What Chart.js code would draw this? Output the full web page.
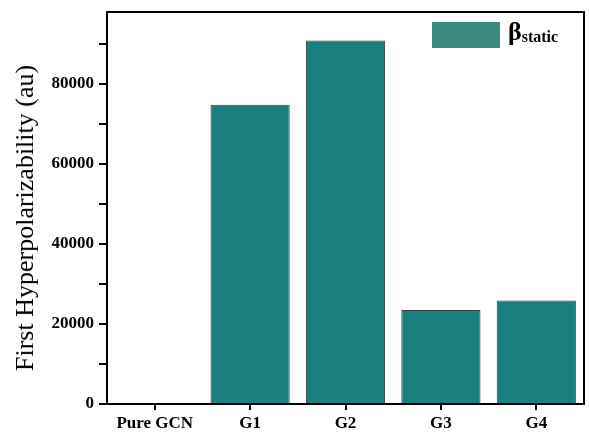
<!DOCTYPE html>
<html>
<head>
<meta charset="utf-8">
<script src="https://cdn.jsdelivr.net/npm/chart.js@4/dist/chart.umd.min.js"></script>
<style>
  html, body { margin: 0; padding: 0; background: #fff; }
  #wrap { position: relative; width: 589px; height: 433px; }
  #legend { position: absolute; left: 432px; top: 19px; display: flex; align-items: center;
            font-family: "Liberation Serif", "Times New Roman", serif; font-weight: bold; color: #000; }
  #legend .box { width: 68px; height: 26px; background: #3d8a80; margin-right: 8px; }
  #legend .beta { font-size: 26px; line-height: 26px; }
  #legend sub { font-size: 16px; vertical-align: -2px; }
  #ytitle { position: absolute; left: 25px; top: 218px; transform: translate(-50%, -50%) rotate(-90deg);
            white-space: nowrap; font-family: "Liberation Serif", "Times New Roman", serif; font-size: 26px;
            line-height: 26px; color: #000; }
</style>
</head>
<body>
<div id="wrap">
  <canvas id="c" width="589" height="433"></canvas>
  <div id="ytitle">First Hyperpolarizability (au)</div>
  <div id="legend"><span class="box"></span><span class="beta">β<sub>static</sub></span></div>
</div>
<script>
const categories = ["Pure GCN", "G1", "G2", "G3", "G4"];
const betaStatic = [0, 74800, 90900, 23500, 25850];
const yTickValues = [0, 20000, 40000, 60000, 80000];

const frame = {
  id: 'frame',
  afterDraw(chart) {
    const a = chart.chartArea, ctx = chart.ctx;
    ctx.save();
    ctx.strokeStyle = '#000';
    ctx.lineWidth = 2;
    ctx.strokeRect(a.left, a.top, a.right - a.left, a.bottom - a.top);
    ctx.restore();
  }
};

new Chart(document.getElementById('c'), {
  type: 'bar',
  data: {
    labels: categories,
    datasets: [{
      label: 'βstatic',
      data: betaStatic,
      backgroundColor: '#1b7f80',
      borderColor: '#33413f',
      borderWidth: 1,
      barPercentage: 0.83,
      categoryPercentage: 1.0
    }]
  },
  options: {
    responsive: false,
    animation: false,
    layout: { padding: { top: 12, right: 5, left: 0, bottom: 0 } },
    plugins: { legend: { display: false }, tooltip: { enabled: false } },
    scales: {
      x: {
        grid: { offset: false, drawOnChartArea: false, drawTicks: true, tickLength: 6, color: '#000', lineWidth: 2 },
        border: { display: true, color: '#000', width: 2 },
        ticks: { color: '#000', padding: 3, font: { family: 'Liberation Serif', size: 17, weight: 'bold' } },
        afterFit(s) { s.height = 29; s.paddingLeft = 0; s.paddingRight = 0; }
      },
      y: {
        min: 0,
        max: 98000,
        afterBuildTicks(s) {
          const t = [];
          for (let v = 0; v <= 90000; v += 10000) t.push({ value: v });
          s.ticks = t;
        },
        grid: { drawOnChartArea: false, drawTicks: true, tickLength: 8, color: '#000', lineWidth: 2 },
        border: { display: true, color: '#000', width: 2 },
        ticks: {
          color: '#000', padding: 5,
          font: { family: 'Liberation Serif', size: 17, weight: 'bold' },
          callback: (v) => yTickValues.includes(v) ? String(v) : ''
        },
        title: { display: false },
        afterFit(s) { s.width = 107; s.paddingTop = 0; s.paddingBottom = 0; }
      }
    }
  },
  plugins: [frame]
});
</script>
</body>
</html>
